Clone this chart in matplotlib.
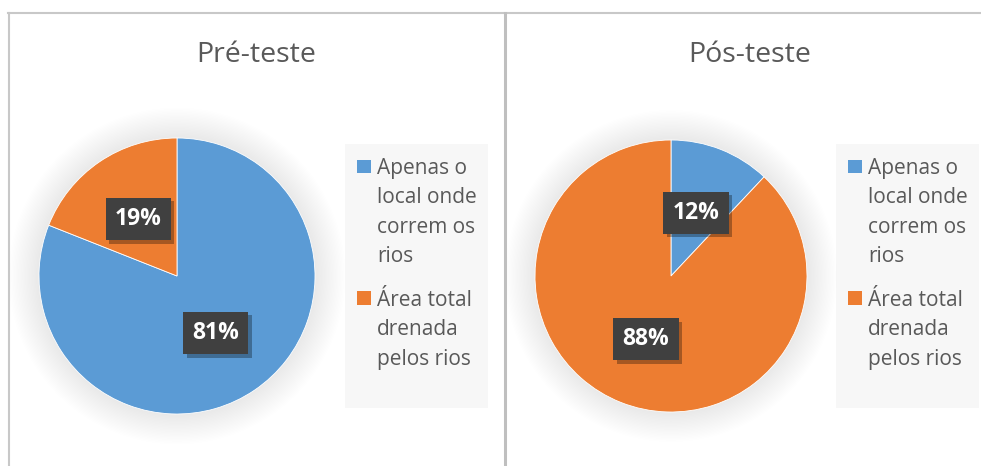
import matplotlib
matplotlib.use("Agg")
import matplotlib.pyplot as plt
from matplotlib.patches import Rectangle, Circle
from matplotlib.lines import Line2D
import matplotlib.patheffects as pe

plt.rcParams['font.family'] = ['Open Sans', 'DejaVu Sans']

categories = ["Apenas o\nlocal onde\ncorrem os\nrios", "Área total\ndrenada\npelos rios"]
titles = ["Pré-teste", "Pós-teste"]
pre_values = [81, 19]
pos_values = [12, 88]
colors = ["#5B9BD5", "#ED7D31"]

W, H = 981, 466
fig = plt.figure(figsize=(W / 100, H / 100), dpi=100)
fig.patch.set_facecolor("white")

def fx(px):
    return px / W

def fy(py):
    return 1 - py / H

# borders
border = "#c8c8c8"
fig.add_artist(Line2D([fx(8), fx(981)], [fy(13), fy(13)], color=border, lw=1.5, transform=fig.transFigure))
fig.add_artist(Line2D([fx(9), fx(9)], [fy(13), fy(466)], color=border, lw=1.5, transform=fig.transFigure))
fig.add_artist(Line2D([fx(504.5), fx(504.5)], [fy(13), fy(466)], color="#bfbfbf", lw=2.2, transform=fig.transFigure))

panels = [
    dict(values=pre_values, title=titles[0], cx=177, cy=276, r=138, tx=256, legx=345, mx=357, tx2=377),
    dict(values=pos_values, title=titles[1], cx=671, cy=276, r=136, tx=750, legx=836, mx=848, tx2=868),
]

line_h = 29.3
entry_gap = 44.0

for p in panels:
    r = p["r"]
    ax = fig.add_axes([fx(p["cx"] - r), fy(p["cy"] + r), 2 * r / W, 2 * r / H])
    # soft shadow
    for k in range(22, 0, -1):
        ax.add_patch(Circle((0.0, 0.0), 1 + 0.01 * k, color="black", alpha=0.005,
                            lw=0, zorder=0, clip_on=False))
    wedges, texts, autotexts = ax.pie(
        p["values"], colors=colors, startangle=90, counterclock=False,
        autopct=lambda v: f"{v:.0f}%", pctdistance=0.5, radius=1,
        wedgeprops=dict(linewidth=0.6, edgecolor="white"),
        textprops=dict(color="white", fontsize=16.5, fontweight="bold"),
    )
    for w in wedges:
        w.set_zorder(2)
    for t in autotexts:
        t.set_zorder(5)
        t.set_bbox(dict(boxstyle="square,pad=0.4", facecolor="#404040", edgecolor="none"))
        t.get_bbox_patch().set_path_effects([
            pe.SimplePatchShadow(offset=(2.5, -2.5), shadow_rgbFace="black", alpha=0.3),
            pe.Normal(),
        ])
    ax.set_xlim(-1, 1)
    ax.set_ylim(-1, 1)
    ax.set_aspect("equal")
    ax.axis("off")

    fig.text(fx(p["tx"]), fy(55), p["title"], ha="center", va="center",
             fontsize=20.5, color="#595959")

    # legend background
    lx = p["legx"]
    fig.add_artist(Rectangle((fx(lx), fy(408)), fx(143), 264 / H, transform=fig.transFigure,
                             facecolor="#f7f7f7", edgecolor="none", zorder=0))
    base = 174.0
    for cat, col in zip(categories, colors):
        fig.add_artist(Rectangle((fx(p["mx"]), fy(base - 1)), fx(14), 13.5 / H,
                                 transform=fig.transFigure, facecolor=col, edgecolor="none"))
        lines = cat.split("\n")
        for i, ln in enumerate(lines):
            fig.text(fx(p["tx2"]), fy(base + i * line_h), ln, ha="left", va="baseline",
                     fontsize=15, color="#595959")
        base += (len(lines) - 1) * line_h + entry_gap

fig.savefig("out.png", dpi=100, facecolor="white")
